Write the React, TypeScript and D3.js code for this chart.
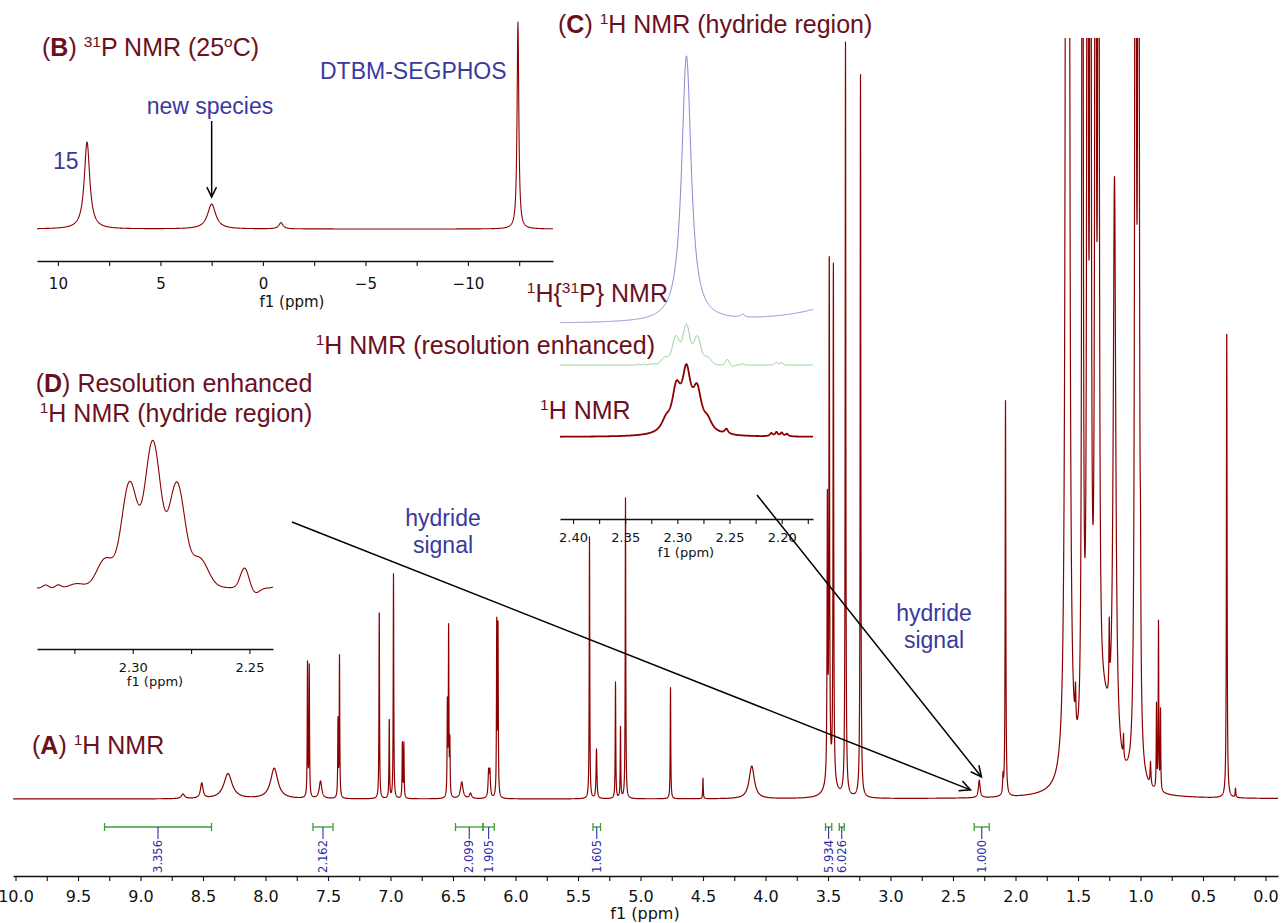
import React, { useRef, useEffect } from "react";
import * as d3 from "d3";

// (A) main 1H spectrum, peaks as [ppm, height (% of plot height), half width (ppm)]
const mainPeaks = [
  [8.66, 0.6, 0.015],
  [8.51, 2.0, 0.012],
  [8.3, 3.3, 0.04],
  [7.93, 4.0, 0.035],
  [7.664, 17.5, 0.0025],
  [7.65, 17.5, 0.0025],
  [7.56, 2.3, 0.012],
  [7.42, 10, 0.0025],
  [7.408, 18.5, 0.0025],
  [7.09, 25, 0.0025],
  [7.01, 10.5, 0.0025],
  [6.976, 29.5, 0.0025],
  [6.905, 7.2, 0.0025],
  [6.893, 7.2, 0.0025],
  [6.545, 12, 0.0025],
  [6.535, 22, 0.0025],
  [6.525, 7, 0.0025],
  [6.43, 2.2, 0.012],
  [6.36, 0.7, 0.01],
  [6.215, 3.3, 0.005],
  [6.205, 3.3, 0.005],
  [6.15, 23, 0.0025],
  [6.14, 22, 0.0025],
  [5.408, 34.4, 0.0025],
  [5.352, 6.5, 0.004],
  [5.2, 15.3, 0.0025],
  [5.16, 9.3, 0.0025],
  [5.12, 39.5, 0.0025],
  [4.76, 14.6, 0.0025],
  [4.5, 2.7, 0.0025],
  [4.11, 4.3, 0.025],
  [3.48, 2.5, 0.04],
  [3.505, 36, 0.003],
  [3.49, 68, 0.003],
  [3.457, 68, 0.003],
  [3.36, 99, 0.003],
  [3.24, 95, 0.003],
  [2.29, 2.3, 0.008],
  [2.1, 2.2, 0.003],
  [2.08, 52, 0.003],
  [1.592, 300, 0.0064],
  [1.576, 300, 0.0064],
  [1.52, 5, 0.004],
  [1.464, 250, 0.0045],
  [1.424, 250, 0.0045],
  [1.4, 250, 0.0045],
  [1.36, 250, 0.0045],
  [1.336, 250, 0.0045],
  [1.3, 10, 0.08],
  [1.25, 9, 0.003],
  [1.208, 76, 0.012],
  [1.136, 3, 0.003],
  [1.04, 250, 0.005],
  [1.016, 250, 0.005],
  [1.0, 12, 0.003],
  [0.92, 3, 0.004],
  [0.872, 11, 0.0025],
  [0.856, 22, 0.0025],
  [0.84, 10.5, 0.0025],
  [0.31, 62, 0.003],
  [0.24, 1.2, 0.003],
];
const mainTicks = [10, 9.5, 9, 8.5, 8, 7.5, 7, 6.5, 6, 5.5, 5, 4.5, 4, 3.5, 3, 2.5, 2, 1.5, 1, 0.5, 0];
// integral regions: [from ppm, to ppm, value]
const integrals = [
  [9.288, 8.432, "3.356"],
  [7.62, 7.46, "2.162"],
  [6.48, 6.26, "2.099"],
  [6.26, 6.17, "1.905"],
  [5.38, 5.32, "1.605"],
  [3.52, 3.47, "5.934"],
  [3.41, 3.37, "6.026"],
  [2.33, 2.21, "1.000"],
];

// (B) 31P spectrum
const p31Peaks = [
  [8.58, 42, 0.16],
  [2.5, 12, 0.24],
  [-0.88, 3, 0.12],
  [-12.44, 100, 0.05],
];
const p31Ticks = [10, 5, 0, -5, -10];

// (C) hydride region, 1H{31P} and plain 1H (heights in px)
const hydrideDecoupled = [
  [2.2913, 266, 0.0055],
  [2.2375, 3, 0.002],
  [2.12, 28, 0.05],
];
const hydrideRaw = [
  [2.311, 10, 0.005],
  [2.301, 40, 0.005],
  [2.2913, 56, 0.005],
  [2.281, 38, 0.005],
  [2.271, 10, 0.005],
  [2.253, 5, 0.002],
  [2.21, 3, 0.0015],
  [2.205, 4, 0.0015],
  [2.2, 3.5, 0.0015],
  [2.195, 2.5, 0.0015],
];
const hydrideTicks = [2.4, 2.35, 2.3, 2.25, 2.2];

// (D) and green trace of (C): resolution enhanced, gaussian [ppm, height, sigma]
const hydrideEnhanced = [
  [2.3373, 3, 0.0012],
  [2.3319, 3, 0.0012],
  [2.324, 4, 0.003],
  [2.3118, 26, 0.0035],
  [2.3014, 95, 0.0033],
  [2.2914, 132, 0.0033],
  [2.281, 95, 0.0033],
  [2.2712, 26, 0.0035],
  [2.2914, 14, 0.012],
  [2.2521, 20, 0.0018],
  [2.2474, -5, 0.0018],
  [2.2375, 4, 0.0015],
  [2.205, 10, 0.0015],
  [2.2, 8, 0.0015],
];
const enhancedTicks = [2.3, 2.25];

const W = 1284;
const H = 923;
const SPEC = "#8b0000";
const TITLE = "#6b1020";
const BLUE = "#3a3a9e";
const INT_GREEN = "#3c9a3c";
const INT_BLUE = "#2c2ca6";
const SANS = "'Liberation Sans', Arial, Helvetica, sans-serif";
const AXF = "'DejaVu Sans', sans-serif";

const lorentz = (peaks) => (v) =>
  d3.sum(peaks, ([c, h, w]) => (h * w * w) / (w * w + (v - c) * (v - c)));
const gauss = (peaks) => (v) =>
  d3.sum(peaks, ([c, h, s]) => h * Math.exp(-((v - c) * (v - c)) / (2 * s * s)));

const drawTrace = (g, x, y, shape, step, color, width) => {
  const [a, b] = x.domain();
  const pts = d3.range(Math.min(a, b), Math.max(a, b), step);
  g.append("path")
    .datum(pts)
    .attr("d", d3.line().x((d) => x(d)).y((d) => y(shape(d))))
    .attr("fill", "none")
    .attr("stroke", color)
    .attr("stroke-width", width)
    .attr("stroke-linejoin", "round");
};

const drawAxis = (g, x, y0, major, fmt, fontSize, pad) => {
  const half = Math.abs(major[1] - major[0]) / 2;
  const [a, b] = x.domain();
  const lo = Math.min(a, b);
  const hi = Math.max(a, b);
  const isMajor = (d) => major.some((m) => Math.abs(m - d) < 1e-9);
  const minor = major
    .flatMap((m) => [m - half, m + half])
    .filter((d, i, arr) => !isMajor(d) && arr.findIndex((e) => Math.abs(e - d) < 1e-9) === i);
  const ticks = [...major, ...minor].filter((d) => d >= lo && d <= hi);
  const axis = d3
    .axisBottom(x)
    .tickValues(ticks)
    .tickSize(5)
    .tickSizeOuter(0)
    .tickPadding(pad)
    .tickFormat((d) => (isMajor(d) ? fmt(d) : ""));
  const ag = g.append("g").attr("transform", `translate(0,${y0})`).call(axis);
  ag.select(".domain").attr("stroke", "#111").attr("stroke-width", 1.3);
  ag.selectAll(".tick line").attr("stroke", "#111").attr("stroke-width", 1.1);
  ag.selectAll("text").attr("font-family", AXF).attr("font-size", fontSize).attr("fill", "#111");
};

// text with bold and superscript pieces
const richText = (g, x, y, parts, size, color, anchor = "start") => {
  const t = g
    .append("text")
    .attr("x", x)
    .attr("y", y)
    .attr("font-family", SANS)
    .attr("font-size", size)
    .attr("fill", color)
    .attr("text-anchor", anchor)
    .style("white-space", "pre");
  let raised = false;
  parts.forEach(([s, kind]) => {
    const sp = t.append("tspan").text(s);
    if (kind === "sup") {
      sp.attr("font-size", size * 0.62);
      if (!raised) sp.attr("dy", -size * 0.38);
      raised = true;
    } else {
      if (raised) sp.attr("dy", size * 0.38);
      raised = false;
      if (kind === "b") sp.attr("font-weight", "bold");
    }
  });
};

const plainText = (g, x, y, s, size, color, anchor = "start", family = SANS) =>
  g
    .append("text")
    .attr("x", x)
    .attr("y", y)
    .attr("font-family", family)
    .attr("font-size", size)
    .attr("fill", color)
    .attr("text-anchor", anchor)
    .text(s);

const arrow = (g, x1, y1, x2, y2, head = 12) => {
  g.append("line")
    .attr("x1", x1).attr("y1", y1).attr("x2", x2).attr("y2", y2)
    .attr("stroke", "#000").attr("stroke-width", 1.5);
  const ang = Math.atan2(y2 - y1, x2 - x1);
  const p = [ang + Math.PI - 0.45, ang + Math.PI + 0.45].map((a) => [
    x2 + head * Math.cos(a),
    y2 + head * Math.sin(a),
  ]);
  g.append("path")
    .attr("d", `M${p[0][0]},${p[0][1]}L${x2},${y2}L${p[1][0]},${p[1][1]}`)
    .attr("fill", "none").attr("stroke", "#000").attr("stroke-width", 1.5);
};

const App = () => {
  const svgRef = useRef(null);

  useEffect(() => {
    const svg = d3.select(svgRef.current);
    svg.selectAll("*").remove();

    // ----- (A) main spectrum -----
    const xMain = d3.scaleLinear().domain([10.02, -0.1]).range([13, 1278]);
    const yMain = d3.scaleLinear().domain([0, 100]).range([799, 38]);

    svg.append("defs").append("clipPath").attr("id", "mainClip")
      .append("rect").attr("x", 0).attr("y", 38).attr("width", W).attr("height", 820);
    const main = svg.append("g").attr("clip-path", "url(#mainClip)");
    drawTrace(main, xMain, yMain, lorentz(mainPeaks), 0.0008, SPEC, 1.2);

    const ax = svg.append("g");
    drawAxis(ax, xMain, 876, mainTicks, d3.format(".1f"), 16, 10);
    plainText(ax, 645, 919, "f1 (ppm)", 16, "#111", "middle", AXF);

    // integrals
    const ig = svg.append("g");
    integrals.forEach(([a, b, label]) => {
      const xa = xMain(a);
      const xb = xMain(b);
      const xm = (xa + xb) / 2;
      ig.append("line").attr("x1", xa).attr("x2", xb).attr("y1", 827).attr("y2", 827)
        .attr("stroke", INT_GREEN).attr("stroke-width", 1.3);
      [xa, xb].forEach((xx) =>
        ig.append("line").attr("x1", xx).attr("x2", xx).attr("y1", 823).attr("y2", 831)
          .attr("stroke", INT_GREEN).attr("stroke-width", 1.3)
      );
      ig.append("line").attr("x1", xm).attr("x2", xm).attr("y1", 827).attr("y2", 839)
        .attr("stroke", INT_BLUE).attr("stroke-width", 1.1);
      ig.append("text")
        .attr("transform", `translate(${xm},${840}) rotate(-90)`)
        .attr("text-anchor", "end")
        .attr("dominant-baseline", "central")
        .attr("font-family", AXF)
        .attr("font-size", 11.5)
        .attr("fill", INT_BLUE)
        .text(label);
    });

    richText(svg, 32, 754, [["(", ""], ["A", "b"], [") ", ""], ["1", "sup"], ["H NMR", ""]], 25, TITLE);

    // ----- (B) 31P inset -----
    const xB = d3.scaleLinear().domain([11.02, -14.15]).range([37, 553]);
    const yB = d3.scaleLinear().domain([0, 100]).range([229, 22]);
    const gB = svg.append("g");
    drawTrace(gB, xB, yB, lorentz(p31Peaks), 0.01, SPEC, 1.1);
    drawAxis(gB, xB, 261, p31Ticks, d3.format("d"), 15, 12);
    plainText(gB, 292, 307, "f1 (ppm)", 15, "#111", "middle", AXF);
    richText(gB, 42, 56,
      [["(", ""], ["B", "b"], [") ", ""], ["31", "sup"], ["P NMR (25", ""], ["o", "sup"], ["C)", ""]],
      25, TITLE);
    plainText(gB, 320, 79, "DTBM-SEGPHOS", 23, BLUE);
    plainText(gB, 210, 114, "new species", 23, BLUE, "middle");
    plainText(gB, 53, 169, "15", 23, BLUE);
    arrow(gB, xB(2.5), 121, xB(2.5), 197, 11);

    // ----- (C) hydride region inset -----
    const xC = d3.scaleLinear().domain([2.4125, 2.17]).range([560, 813]);
    const gC = svg.append("g");
    drawTrace(gC, xC, d3.scaleLinear().domain([0, 100]).range([324, 224]),
      lorentz(hydrideDecoupled), 0.0002, "#8585d6", 1);
    drawTrace(gC, xC, d3.scaleLinear().domain([0, 148]).range([365, 324]),
      gauss(hydrideEnhanced), 0.0002, "#8dcc8d", 1);
    drawTrace(gC, xC, d3.scaleLinear().domain([0, 100]).range([437, 337]),
      lorentz(hydrideRaw), 0.0002, SPEC, 1.8);
    drawAxis(gC, xC, 519, hydrideTicks, d3.format(".2f"), 13, 9);
    plainText(gC, 686, 557, "f1 (ppm)", 13, "#111", "middle", AXF);
    richText(gC, 558, 33, [["(", ""], ["C", "b"], [") ", ""], ["1", "sup"], ["H NMR (hydride region)", ""]], 25, TITLE);
    richText(gC, 668, 302, [["1", "sup"], ["H{", ""], ["31", "sup"], ["P} NMR", ""]], 25, TITLE, "end");
    richText(gC, 655, 354, [["1", "sup"], ["H NMR (resolution enhanced)", ""]], 25, TITLE, "end");
    richText(gC, 540, 419, [["1", "sup"], ["H NMR", ""]], 25, TITLE);

    // ----- (D) resolution enhanced inset -----
    const xD = d3.scaleLinear().domain([2.341, 2.2399]).range([37, 273]);
    const yD = d3.scaleLinear().domain([0, 100]).range([588, 488]);
    const gD = svg.append("g");
    drawTrace(gD, xD, yD, gauss(hydrideEnhanced), 0.0001, SPEC, 1.1);
    drawAxis(gD, xD, 649, enhancedTicks, d3.format(".2f"), 13, 9);
    plainText(gD, 155, 686, "f1 (ppm)", 13, "#111", "middle", AXF);
    richText(gD, 174, 392, [["(", ""], ["D", "b"], [") Resolution enhanced", ""]], 25, TITLE, "middle");
    richText(gD, 176, 422, [["1", "sup"], ["H NMR (hydride region)", ""]], 25, TITLE, "middle");

    // ----- hydride annotations -----
    const gN = svg.append("g");
    plainText(gN, 443, 526, "hydride", 23, BLUE, "middle");
    plainText(gN, 443, 553, "signal", 23, BLUE, "middle");
    plainText(gN, 934, 621, "hydride", 23, BLUE, "middle");
    plainText(gN, 934, 648, "signal", 23, BLUE, "middle");
    arrow(gN, 292, 522, xMain(2.36), yMain(1.2));
    arrow(gN, 757, 495, xMain(2.272), yMain(2.9));
  }, []);

  return (
    <svg
      ref={svgRef}
      width={W}
      height={H}
      style={{ position: "absolute", left: 0, top: 0, background: "#fff" }}
    />
  );
};

export default App;
